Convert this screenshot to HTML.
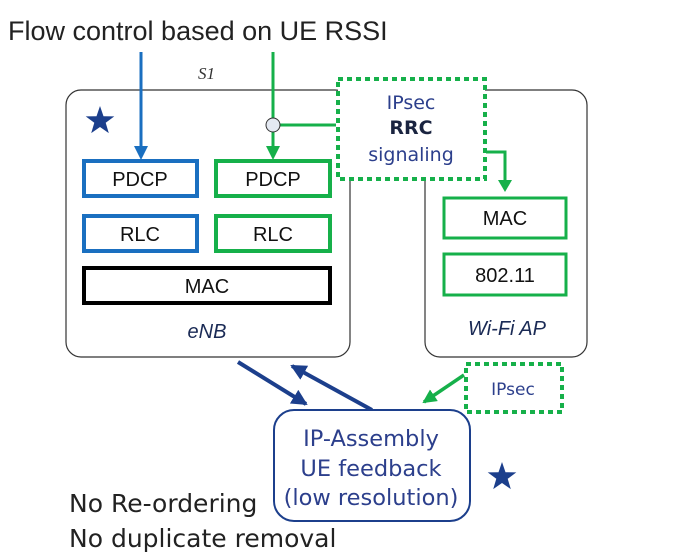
<!DOCTYPE html>
<html><head><style>
body{margin:0;background:#fff;}
svg{display:block}
</style></head><body>
<svg width="674" height="555" viewBox="0 0 674 555" xmlns="http://www.w3.org/2000/svg">
<defs>
<marker id="ag" markerWidth="14" markerHeight="14" refX="12" refY="7" orient="auto" markerUnits="userSpaceOnUse"><path d="M0,0 L14,7 L0,14 z" fill="#16b04a"/></marker>
<marker id="an" markerWidth="16" markerHeight="16" refX="14" refY="8" orient="auto" markerUnits="userSpaceOnUse"><path d="M0,0 L16,8 L0,16 z" fill="#1c3f8c"/></marker>
<path id="star" d="M0,-15 L3.5,-4.8 L14.3,-4.6 L5.7,1.8 L8.8,12.1 L0,6 L-8.8,12.1 L-5.7,1.8 L-14.3,-4.6 L-3.5,-4.8 z" fill="#1c3f8c"/>
</defs>
<text x="8" y="40" font-family="Liberation Sans, sans-serif" font-size="27" fill="#222">Flow control based on UE RSSI</text>
<text x="198" y="79" font-family="Liberation Serif, serif" font-style="italic" font-size="17" fill="#333">S1</text>
<rect x="66" y="90" width="284" height="267" rx="15" fill="none" stroke="#333" stroke-width="1.2"/>
<rect x="425" y="90" width="162" height="267" rx="15" fill="none" stroke="#333" stroke-width="1.2"/>
<use href="#star" x="100" y="121"/>
<use href="#star" x="502" y="477"/>
<line x1="141" y1="52" x2="141" y2="150" stroke="#1a6fc0" stroke-width="3"/>
<line x1="273" y1="52" x2="273" y2="150" stroke="#16b04a" stroke-width="3"/>
<path d="M266,146 L273,160 L280,146 z" fill="#16b04a"/>
<path d="M134,146 L141,160 L148,146 z" fill="#1a6fc0"/>
<line x1="273" y1="125" x2="336" y2="125" stroke="#16b04a" stroke-width="3"/>
<circle cx="273" cy="125" r="7" fill="#e4e9f2" stroke="#333" stroke-width="1"/>
<rect x="84" y="161" width="113" height="35" fill="#fff" stroke="#1a6fc0" stroke-width="4"/>
<rect x="84" y="216" width="113" height="35" fill="#fff" stroke="#1a6fc0" stroke-width="4"/>
<rect x="216" y="161" width="114" height="35" fill="#fff" stroke="#16b04a" stroke-width="4"/>
<rect x="216" y="216" width="114" height="35" fill="#fff" stroke="#16b04a" stroke-width="4"/>
<rect x="84" y="268" width="246" height="35" fill="#fff" stroke="#000" stroke-width="4"/>
<g font-family="Liberation Sans, sans-serif" font-size="20" fill="#111" text-anchor="middle">
<text x="140" y="186">PDCP</text><text x="140" y="241">RLC</text>
<text x="273" y="186">PDCP</text><text x="273" y="241">RLC</text>
<text x="207" y="293">MAC</text>
</g>
<g font-family="Liberation Sans, sans-serif" font-size="20" font-style="italic" fill="#1a2a55" text-anchor="middle">
<text x="207" y="338">eNB</text><text x="507" y="335">Wi-Fi AP</text>
</g>
<rect x="338" y="79" width="147" height="100" fill="#fff" stroke="#16b04a" stroke-width="4" stroke-dasharray="5,4"/>
<g font-family="DejaVu Sans, sans-serif" font-size="19" fill="#2c3f8c" text-anchor="middle">
<text x="411" y="109">IPsec</text>
<text x="411" y="134" font-weight="bold" fill="#1a2440">RRC</text>
<text x="411" y="161">signaling</text>
</g>
<path d="M486,152 L505,152 L505,184" fill="none" stroke="#16b04a" stroke-width="3"/>
<path d="M498,180 L505,192 L512,180 z" fill="#16b04a"/>
<rect x="444" y="198" width="122" height="40" fill="#fff" stroke="#16b04a" stroke-width="3"/>
<rect x="444" y="254" width="122" height="41" fill="#fff" stroke="#16b04a" stroke-width="3"/>
<g font-family="Liberation Sans, sans-serif" font-size="20" fill="#111" text-anchor="middle">
<text x="505" y="225">MAC</text><text x="505" y="282">802.11</text>
</g>
<rect x="466" y="364" width="96" height="48" fill="#fff" stroke="#16b04a" stroke-width="4" stroke-dasharray="5,4"/>
<text x="513" y="395" font-family="DejaVu Sans, sans-serif" font-size="17" fill="#2c3f8c" text-anchor="middle">IPsec</text>
<line x1="464" y1="375" x2="424" y2="402" stroke="#16b04a" stroke-width="3.5" marker-end="url(#ag)"/>
<line x1="238" y1="362" x2="306" y2="404" stroke="#1c3f8c" stroke-width="4" marker-end="url(#an)"/>
<line x1="372" y1="410" x2="292" y2="366" stroke="#1c3f8c" stroke-width="4" marker-end="url(#an)"/>
<rect x="274" y="410" width="196" height="111" rx="20" fill="#fff" stroke="#1c3f8c" stroke-width="2"/>
<g font-family="DejaVu Sans, sans-serif" font-size="22.5" fill="#2c3f8c" text-anchor="middle">
<text x="371" y="446">IP-Assembly</text>
<text x="371" y="476">UE feedback</text>
<text x="371" y="505">(low resolution)</text>
</g>
<g font-family="DejaVu Sans, sans-serif" font-size="25" fill="#222">
<text x="69" y="512">No Re-ordering</text>
<text x="69" y="547">No duplicate removal</text>
</g>
</svg>
</body></html>
